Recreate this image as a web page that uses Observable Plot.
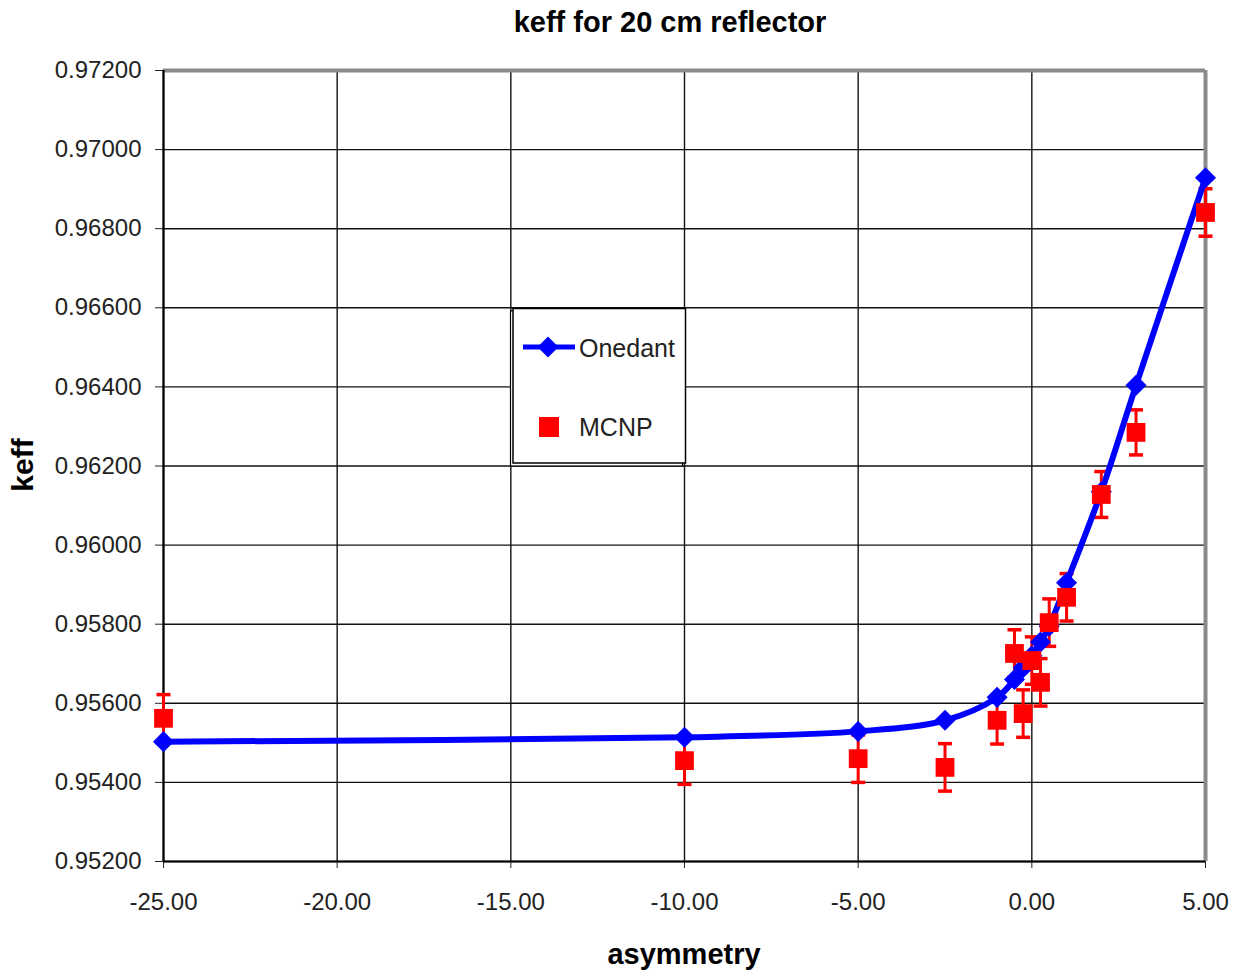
<!DOCTYPE html>
<html>
<head>
<meta charset="utf-8">
<script src="https://cdn.jsdelivr.net/npm/d3@7"></script>
<script src="https://cdn.jsdelivr.net/npm/@observablehq/plot@0.6"></script>
<style>
  html, body { margin: 0; padding: 0; background: #fff; }
  #chart { position: relative; width: 1241px; height: 976px; }
</style>
</head>
<body>
<div id="chart"></div>
<script>
// ---- data ----
const asym = [-25, -10, -5, -2.5, -1, -0.5, -0.25, 0, 0.25, 0.5, 1, 2, 3, 5];
const onedant = [0.95503, 0.95514, 0.95529, 0.95557, 0.95615, 0.95660, 0.95690, 0.95720, 0.95755, 0.95795, 0.95905, 0.96135, 0.96404, 0.96929];
const mcnp = [0.95562, 0.95455, 0.95460, 0.95438, 0.95557, 0.95726, 0.95574, 0.95708, 0.95653, 0.95804, 0.95868, 0.96128, 0.96285, 0.96841];
const mcnpErr = [0.0006, 0.0006, 0.0006, 0.0006, 0.0006, 0.0006, 0.0006, 0.0006, 0.0006, 0.0006, 0.0006, 0.00058, 0.00057, 0.0006];
const xTicks = [-25, -20, -15, -10, -5, 0, 5];
const yTicks = [0.952, 0.954, 0.956, 0.958, 0.960, 0.962, 0.964, 0.966, 0.968, 0.970, 0.972];
const titleText = "keff for 20 cm reflector";
const xLabel = "asymmetry";
const yLabel = "keff";
const seriesNames = ["Onedant", "MCNP"];

const oneData = asym.map((x, i) => ({x, y: onedant[i]}));
const mcData = asym.map((x, i) => ({x, y: mcnp[i], lo: mcnp[i] - mcnpErr[i], hi: mcnp[i] + mcnpErr[i]}));

const capSymbol = {draw(ctx) { ctx.moveTo(-7, 0); ctx.lineTo(7, 0); }};
const font = "'Liberation Sans', Arial, sans-serif";

const plot = Plot.plot({
  width: 1241,
  height: 976,
  marginLeft: 163,
  marginRight: 36,
  marginTop: 70,
  marginBottom: 115,
  style: {fontFamily: font, fontSize: "24px", color: "#222", background: "#fff", overflow: "visible"},
  x: {domain: [-25, 5], ticks: xTicks, tickFormat: d => d.toFixed(2), tickSize: 7, tickPadding: 24, label: null},
  y: {domain: [0.952, 0.972], ticks: yTicks, tickFormat: d => d.toFixed(5), tickSize: 8, tickPadding: 14, label: null},
  marks: [
    Plot.ruleX(xTicks, {stroke: "#111", strokeWidth: 1.4}),
    Plot.ruleY(yTicks, {stroke: "#111", strokeWidth: 1.4}),
    Plot.ruleY([0.972], {stroke: "#8a8a8a", strokeWidth: 4}),
    Plot.ruleX([5], {stroke: "#8a8a8a", strokeWidth: 4}),
    Plot.ruleX([-25], {stroke: "#000", strokeWidth: 2.2}),
    Plot.ruleY([0.952], {stroke: "#000", strokeWidth: 2.2}),
    // MCNP error bars
    Plot.ruleX(mcData, {x: "x", y1: "lo", y2: "hi", stroke: "#ff0000", strokeWidth: 3}),
    Plot.dot(mcData, {x: "x", y: "lo", symbol: capSymbol, stroke: "#ff0000", strokeWidth: 3.5, fill: "none"}),
    Plot.dot(mcData, {x: "x", y: "hi", symbol: capSymbol, stroke: "#ff0000", strokeWidth: 3.5, fill: "none"}),
    // Onedant
    Plot.line(oneData, {x: "x", y: "y", stroke: "#0000ff", strokeWidth: 6, curve: "catmull-rom"}),
    Plot.dot(oneData, {x: "x", y: "y", symbol: "diamond2", r: 9.5, fill: "#0000ff", stroke: "none"}),
    // MCNP squares
    Plot.dot(mcData, {x: "x", y: "y", symbol: "square", r: 10.6, fill: "#ff0000", stroke: "none"})
  ]
});

document.getElementById("chart").appendChild(plot);

const svg = d3.select(plot);
// title and axis labels
svg.append("text").attr("x", 670).attr("y", 32).attr("text-anchor", "middle")
  .style("font-family", font).style("font-size", "29px").style("font-weight", "bold").attr("fill", "#000")
  .text(titleText);
svg.append("text").attr("x", 684).attr("y", 964).attr("text-anchor", "middle")
  .style("font-family", font).style("font-size", "29px").style("font-weight", "bold").attr("fill", "#000")
  .text(xLabel);
svg.append("text").attr("transform", "translate(33,465) rotate(-90)").attr("text-anchor", "middle")
  .style("font-family", font).style("font-size", "30px").style("font-weight", "bold").attr("fill", "#000")
  .text(yLabel);

// legend
const lg = svg.append("g").attr("text-anchor", "start");
lg.append("rect").attr("x", 510.5).attr("y", 311).attr("width", 172).attr("height", 155)
  .attr("fill", "#fff").attr("stroke", "#000").attr("stroke-width", 1.2);
lg.append("rect").attr("x", 513).attr("y", 308.5).attr("width", 172.5).attr("height", 154.5)
  .attr("fill", "#fff").attr("stroke", "#000").attr("stroke-width", 1.5);
lg.append("line").attr("x1", 523).attr("x2", 575).attr("y1", 347).attr("y2", 347)
  .attr("stroke", "#0000ff").attr("stroke-width", 5);
lg.append("path").attr("d", d3.symbol(d3.symbolDiamond2, 9.5 * 9.5 * Math.PI)()).attr("transform", "translate(548,347)").attr("fill", "#0000ff");
lg.append("text").attr("x", 579).attr("y", 357).attr("text-anchor", "start").style("font-family", font).style("font-size", "25px").attr("fill", "#222").text(seriesNames[0]);
lg.append("rect").attr("x", 539).attr("y", 417).attr("width", 20).attr("height", 20).attr("fill", "#ff0000");
lg.append("text").attr("x", 579).attr("y", 436).attr("text-anchor", "start").style("font-family", font).style("font-size", "25px").attr("fill", "#222").text(seriesNames[1]);
</script>
</body>
</html>
